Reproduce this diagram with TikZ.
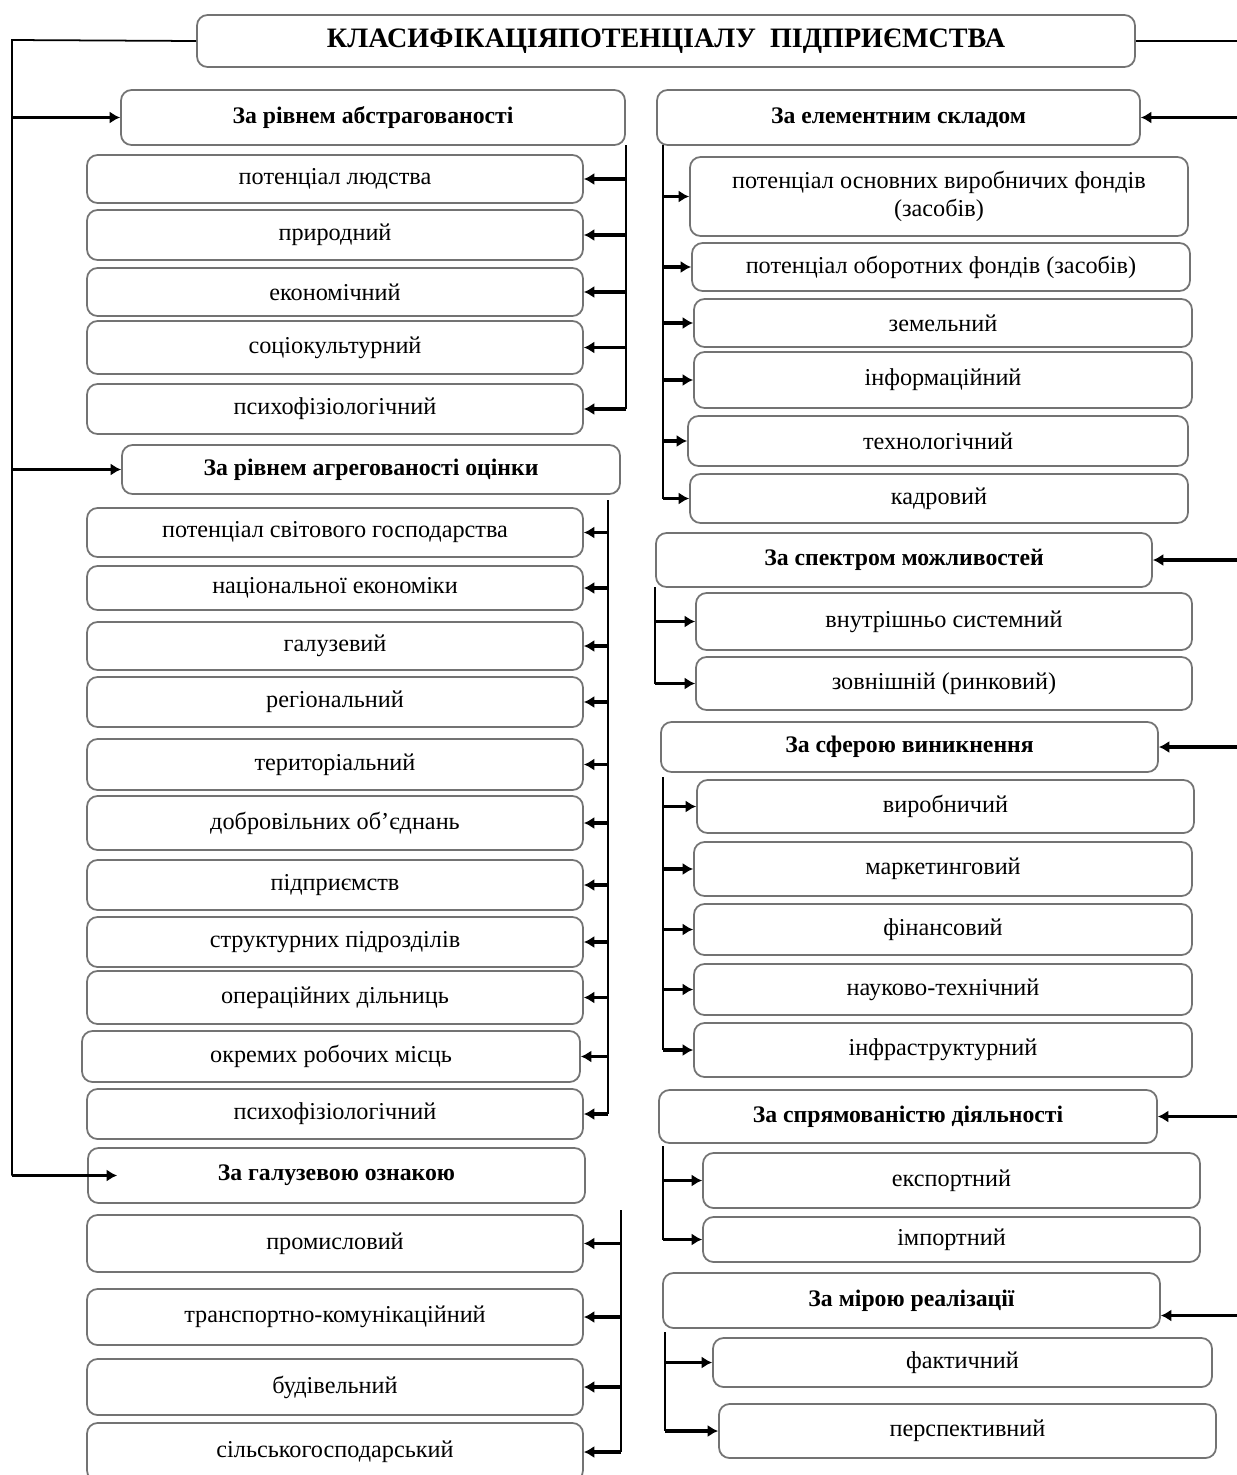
\documentclass[tikz,border=0pt]{standalone}
\usepackage{fontspec}
\setmainfont{Liberation Serif}
\usetikzlibrary{arrows.meta}

\tikzset{
  item/.style={draw=black!55, line width=1pt, rounded corners=6pt, align=center,
    inner sep=2pt, font=\fontsize{13.8}{16}\selectfont},
  head/.style={item, font=\bfseries\fontsize{13.5}{16}\selectfont},
  titlebox/.style={item, font=\bfseries\fontsize{16}{19}\selectfont},
  boxsize/.style 2 args={minimum width=#1*0.02cm, minimum height=#2*0.02cm},
  arr/.style={line width=2.2pt, -{Latex[length=6pt,width=7pt]}},
  trunk/.style={line width=1pt},
}

\begin{document}
\begin{tikzpicture}[x=0.02cm, y=-0.02cm]
\useasboundingbox (0,0) rectangle (1237,1475);

\node[titlebox, boxsize={938}{52}] (title) at (666,41) {КЛАСИФІКАЦІЯПОТЕНЦІАЛУ\ \ ПІДПРИЄМСТВА};

% left column
\node[head, boxsize={504}{55}] (abs) at (373,117.5) {За рівнем абстрагованості};
\node[item, boxsize={496}{48}] (abs1) at (335,179) {потенціал людства};
\node[item, boxsize={496}{50}] (abs2) at (335,235) {природний};
\node[item, boxsize={496}{48}] (abs3) at (335,292) {економічний};
\node[item, boxsize={496}{53}] (abs4) at (335,347.5) {соціокультурний};
\node[item, boxsize={496}{50}] (abs5) at (335,409) {психофізіологічний};

\node[head, boxsize={498}{49}] (agr) at (371,469.5) {За рівнем агрегованості оцінки};
\node[item, boxsize={496}{49}] (agr1) at (335,532.5) {потенціал світового господарства};
\node[item, boxsize={496}{44}] (agr2) at (335,588) {національної економіки};
\node[item, boxsize={496}{48}] (agr3) at (335,646) {галузевий};
\node[item, boxsize={496}{50}] (agr4) at (335,702) {регіональний};
\node[item, boxsize={496}{51}] (agr5) at (335,764.5) {територіальний};
\node[item, boxsize={496}{54}] (agr6) at (335,823) {добровільних об’єднань};
\node[item, boxsize={496}{50}] (agr7) at (335,885) {підприємств};
\node[item, boxsize={496}{50}] (agr8) at (335,942) {структурних підрозділів};
\node[item, boxsize={496}{53}] (agr9) at (335,997.5) {операційних дільниць};
\node[item, boxsize={498}{51}] (agr10) at (331,1056.5) {окремих робочих місць};
\node[item, boxsize={496}{50}] (agr11) at (335,1114) {психофізіологічний};

\node[head, boxsize={497}{55}] (gal) at (336.5,1175.5) {За галузевою ознакою};
\node[item, boxsize={496}{57}] (gal1) at (335,1243.5) {промисловий};
\node[item, boxsize={496}{56}] (gal2) at (335,1317) {транспортно-комунікаційний};
\node[item, boxsize={496}{56}] (gal3) at (335,1387) {будівельний};
\node[item, boxsize={496}{58}] (gal4) at (335,1452) {сільськогосподарський};

% right column
\node[head, boxsize={483}{55}] (el) at (898.5,117.5) {За елементним складом};
\node[item, boxsize={498}{79}] (el1) at (939,196.5) {потенціал основних виробничих фондів\\(засобів)};
\node[item, boxsize={498}{48}] (el2) at (941,267) {потенціал оборотних фондів (засобів)};
\node[item, boxsize={498}{48}] (el3) at (943,323) {земельний};
\node[item, boxsize={498}{56}] (el4) at (943,380) {інформаційний};
\node[item, boxsize={500}{50}] (el5) at (938,441) {технологічний};
\node[item, boxsize={498}{49}] (el6) at (939,498.5) {кадровий};

\node[head, boxsize={496}{54}] (sp) at (904,560) {За спектром можливостей};
\node[item, boxsize={496}{57}] (sp1) at (944,621.5) {внутрішньо системний};
\node[item, boxsize={496}{53}] (sp2) at (944,683.5) {зовнішній (ринковий)};

\node[head, boxsize={497}{50}] (sf) at (909.5,747) {За сферою виникнення};
\node[item, boxsize={497}{53}] (sf1) at (945.5,806.5) {виробничий};
\node[item, boxsize={498}{54}] (sf2) at (943,869) {маркетинговий};
\node[item, boxsize={498}{51}] (sf3) at (943,929.5) {фінансовий};
\node[item, boxsize={498}{51}] (sf4) at (943,989.5) {науково-технічний};
\node[item, boxsize={498}{54}] (sf5) at (943,1050) {інфраструктурний};

\node[head, boxsize={498}{53}] (napr) at (908,1116.5) {За спрямованістю діяльності};
\node[item, boxsize={497}{55}] (napr1) at (951.5,1180.5) {експортний};
\node[item, boxsize={497}{45}] (napr2) at (951.5,1239.5) {імпортний};

\node[head, boxsize={497}{55}] (mira) at (911.5,1300.5) {За мірою реалізації};
\node[item, boxsize={499}{49}] (mira1) at (962.5,1362.5) {фактичний};
\node[item, boxsize={497}{54}] (mira2) at (967.5,1431) {перспективний};

% main lines from the title
\coordinate (lc) at (12,40);
\coordinate (rc) at (1237,46);
\draw[trunk] (title.west) -- (lc) -- (lc |- gal.west);
\draw[arr] (lc |- abs.west) -- (abs.west);
\draw[arr] (lc |- agr.west) -- (agr.west);
\draw[arr] (lc |- gal.west) -- ([xshift=0.6cm]gal.west);
\draw[trunk] (title.east) -- (rc |- title.east);
\draw[arr] (rc |- el.east) -- (el.east);
\draw[arr] (rc |- sp.east) -- (sp.east);
\draw[arr] (rc |- sf.east) -- (sf.east);
\draw[arr] (rc |- napr.east) -- (napr.east);
\draw[arr] ([yshift=-0.3cm]rc |- mira.east) -- ([yshift=-0.3cm]mira.east);

% left branches
\coordinate (abst) at (626,145);
\draw[trunk] (abst) -- (abst |- abs5.east);
\draw[arr] (abst |- abs1.east) -- (abs1.east);
\draw[arr] (abst |- abs2.east) -- (abs2.east);
\draw[arr] (abst |- abs3.east) -- (abs3.east);
\draw[arr] (abst |- abs4.east) -- (abs4.east);
\draw[arr] (abst |- abs5.east) -- (abs5.east);

\coordinate (agrt) at (608,500);
\draw[trunk] (agrt) -- (agrt |- agr11.east);
\draw[arr] (agrt |- agr1.east) -- (agr1.east);
\draw[arr] (agrt |- agr2.east) -- (agr2.east);
\draw[arr] (agrt |- agr3.east) -- (agr3.east);
\draw[arr] (agrt |- agr4.east) -- (agr4.east);
\draw[arr] (agrt |- agr5.east) -- (agr5.east);
\draw[arr] (agrt |- agr6.east) -- (agr6.east);
\draw[arr] (agrt |- agr7.east) -- (agr7.east);
\draw[arr] (agrt |- agr8.east) -- (agr8.east);
\draw[arr] (agrt |- agr9.east) -- (agr9.east);
\draw[arr] (agrt |- agr10.east) -- (agr10.east);
\draw[arr] (agrt |- agr11.east) -- (agr11.east);

\coordinate (galt) at (621,1210);
\draw[trunk] (galt) -- (galt |- gal4.east);
\draw[arr] (galt |- gal1.east) -- (gal1.east);
\draw[arr] (galt |- gal2.east) -- (gal2.east);
\draw[arr] (galt |- gal3.east) -- (gal3.east);
\draw[arr] (galt |- gal4.east) -- (gal4.east);

% right branches
\coordinate (elt) at (663,145);
\draw[trunk] (elt) -- (elt |- el6.west);
\draw[arr] (elt |- el1.west) -- (el1.west);
\draw[arr] (elt |- el2.west) -- (el2.west);
\draw[arr] (elt |- el3.west) -- (el3.west);
\draw[arr] (elt |- el4.west) -- (el4.west);
\draw[arr] (elt |- el5.west) -- (el5.west);
\draw[arr] (elt |- el6.west) -- (el6.west);

\coordinate (spt) at (655,587);
\draw[trunk] (spt) -- (spt |- sp2.west);
\draw[arr] (spt |- sp1.west) -- (sp1.west);
\draw[arr] (spt |- sp2.west) -- (sp2.west);

\coordinate (sft) at (663,777);
\draw[trunk] (sft) -- (sft |- sf5.west);
\draw[arr] (sft |- sf1.west) -- (sf1.west);
\draw[arr] (sft |- sf2.west) -- (sf2.west);
\draw[arr] (sft |- sf3.west) -- (sf3.west);
\draw[arr] (sft |- sf4.west) -- (sf4.west);
\draw[arr] (sft |- sf5.west) -- (sf5.west);

\coordinate (naprt) at (663,1146);
\draw[trunk] (naprt) -- (naprt |- napr2.west);
\draw[arr] (naprt |- napr1.west) -- (napr1.west);
\draw[arr] (naprt |- napr2.west) -- (napr2.west);

\coordinate (mirat) at (665,1332);
\draw[trunk] (mirat) -- (mirat |- mira2.west);
\draw[arr] (mirat |- mira1.west) -- (mira1.west);
\draw[arr] (mirat |- mira2.west) -- (mira2.west);

\end{tikzpicture}
\end{document}
